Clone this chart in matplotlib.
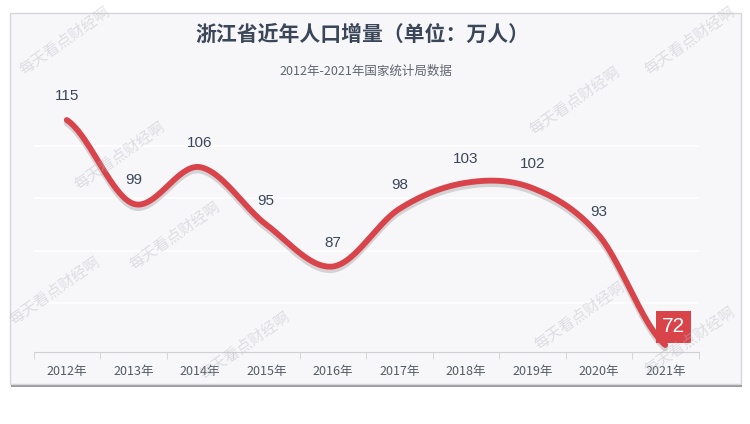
import matplotlib.pyplot as plt
import matplotlib.patheffects as pe
from matplotlib.patches import FancyBboxPatch
import numpy as np

plt.rcParams['font.family'] = ['Noto Sans CJK SC', 'DejaVu Sans']

years = ['2012年', '2013年', '2014年', '2015年', '2016年',
         '2017年', '2018年', '2019年', '2020年', '2021年']
growth = [115, 99, 106, 95, 87, 98, 103, 102, 93, 72]
title = '浙江省近年人口增量（单位：万人）'
subtitle = '2012年-2021年国家统计局数据'
watermark = '每天看点财经啊'

red = '#d9434a'
dark = '#3b4658'


def smooth(y, steps=40):
    # cubic hermite through the points, echarts-like look
    y = np.asarray(y, dtype=float)
    n = len(y)
    m = np.zeros(n)
    m[1:-1] = (y[2:] - y[:-2]) / 2
    m[0] = (y[1] - y[0]) * 0.5
    m[-1] = (y[-1] - y[-2]) * 0.5
    xs, ys = [], []
    for i in range(n - 1):
        t = np.linspace(0, 1, steps, endpoint=False)
        h00 = 2 * t**3 - 3 * t**2 + 1
        h10 = t**3 - 2 * t**2 + t
        h01 = -2 * t**3 + 3 * t**2
        h11 = t**3 - t**2
        xs.append(i + t)
        ys.append(h00 * y[i] + h10 * m[i] + h01 * y[i + 1] + h11 * m[i + 1])
    xs.append([n - 1])
    ys.append([y[-1]])
    return np.concatenate(xs), np.concatenate(ys)


fig = plt.figure(figsize=(7.5, 4.24), dpi=100)
fig.patch.set_facecolor('white')

# card background with a bottom shadow
W, H = 750, 424
shadow = FancyBboxPatch((11 / W, 1 - 387 / H), 731 / W, 372 / H,
                        boxstyle='square,pad=0', transform=fig.transFigure,
                        facecolor='#9a9a9a', edgecolor='none', zorder=-2)
card = FancyBboxPatch((10 / W, 1 - 384 / H), 731 / W, 371 / H,
                      boxstyle='square,pad=0', transform=fig.transFigure,
                      facecolor='#f7f7fa', edgecolor='#d6d6da', lw=1, zorder=-1)
fig.patches.extend([shadow, card])

ax = fig.add_axes([33.5 / W, 72 / H, 665 / W, 258 / H])
ax.set_zorder(1)
ax.set_facecolor('none')
x = np.arange(len(years))
ax.set_xlim(-0.5, len(years) - 0.5)
ax.set_ylim(70.66, 119.97)

for s in ['top', 'right', 'left']:
    ax.spines[s].set_visible(False)
ax.spines['bottom'].set_color('#cfcfd4')
ax.set_yticks([80, 90, 100, 110])
ax.tick_params(axis='y', left=False, labelleft=False)
ax.grid(axis='y', color='white', lw=1.2)
ax.set_axisbelow(True)

ax.set_xticks(x)
ax.set_xticklabels(years, fontsize=9, color='#555a63')
ax.set_xticks(np.arange(-0.5, len(years), 1), minor=True)
ax.tick_params(axis='x', which='major', length=0, pad=9)
ax.tick_params(axis='x', which='minor', length=5, color='#cfcfd4')

sx, sy = smooth(growth)
ax.plot(sx, sy, color=red, lw=4.2, solid_capstyle='round', zorder=3,
        path_effects=[pe.SimpleLineShadow(offset=(0, -2.5), shadow_color='#555555', alpha=0.22),
                      pe.Normal()])

for i, v in enumerate(growth[:-1]):
    ax.annotate(str(v), (x[i], v), xytext=(0, 17), textcoords='offset points',
                ha='center', va='center', fontsize=11, color=dark,
                family='Liberation Sans')
ax.annotate(str(growth[-1]), (x[-1], growth[-1]), xytext=(6, 13),
            textcoords='offset points', ha='center', va='center',
            fontsize=15, color='white', family='Liberation Sans', zorder=5,
            bbox=dict(boxstyle='square,pad=0.3', fc=red, ec='none'))

fig.text(0.483, 1 - 34 / H, title, ha='center', va='center',
         fontsize=15, fontweight='bold', color=dark)
fig.text(0.488, 1 - 71 / H, subtitle, ha='center', va='center',
         fontsize=9, color='#5f6570')

# faint watermarks
for px, py in [(120, 155), (175, 235), (55, 290), (245, 345), (580, 315),
               (690, 340), (690, 40), (65, 40), (575, 100)]:
    fig.text(px / W, 1 - py / H, watermark, ha='center', va='center',
             rotation=35, fontsize=11, color='#b8b8be', alpha=0.4, zorder=10)

fig.savefig('out.png', dpi=100, facecolor='white')
